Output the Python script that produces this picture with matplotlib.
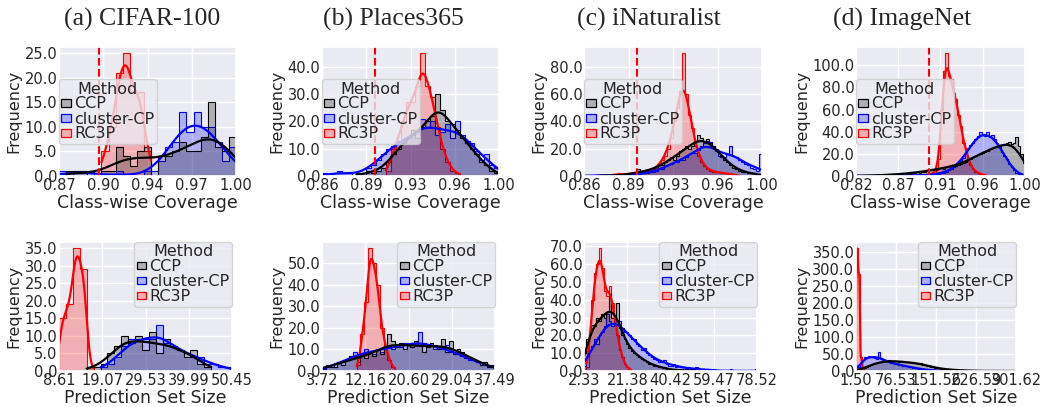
import math
import numpy as np
import matplotlib
matplotlib.use("Agg")
import matplotlib.pyplot as plt
import seaborn as sns
from matplotlib.colors import to_rgba
from matplotlib.patches import Patch
from matplotlib.ticker import MultipleLocator, FormatStrFormatter

# ---------------- data ----------------
methods = ["CCP", "cluster-CP", "RC3P"]
method_colors = ["black", "blue", "red"]
dataset_titles = ["(a) CIFAR-100", "(b) Places365", "(c) iNaturalist", "(d) ImageNet"]
target_coverage = 0.9

# top row: class-wise coverage histograms (counts per bin, bins span the x range)
cov_x_range = [(0.871, 1.0), (0.857, 1.0), (0.858, 1.0), (0.824, 1.0)]
cov_xticklabels = [["0.87", "0.90", "0.94", "0.97", "1.00"],
                   ["0.86", "0.89", "0.93", "0.96", "1.00"],
                   ["0.86", "0.89", "0.93", "0.96", "1.00"],
                   ["0.82", "0.87", "0.91", "0.96", "1.00"]]

cov_a_ccp = [0, 1, 1, 1, 0, 0, 1, 1, 6, 4, 2, 5, 6, 0, 4, 4, 5, 7, 5, 5, 8, 15, 6, 5, 8]
cov_a_cluster = [1, 0, 1, 1, 1, 0, 0, 0, 1, 0, 0, 0, 1, 1, 3, 6, 7, 13, 9, 13, 10, 10, 7, 3, 6]
cov_a_rc3p = [0, 0, 0, 0, 0, 0, 5, 10, 21, 25, 17, 17, 5, 0, 0, 0, 0, 0, 0, 0, 0, 0, 0, 0, 0]

cov_b_ccp = [0, 0, 0, 0, 0, 0, 0, 1, 0, 2, 1, 2, 3, 5, 8, 10, 12, 14, 17, 14,
             18, 20, 22, 30, 24, 20, 19, 17, 14, 12, 10, 8, 5, 4, 2, 1]
cov_b_cluster = [1, 0, 1, 2, 1, 1, 0, 1, 1, 3, 4, 6, 8, 10, 11, 13, 12, 14, 15, 16,
                 21, 18, 20, 15, 16, 19, 14, 20, 15, 13, 12, 9, 6, 8, 4, 3]
cov_b_rc3p = [0, 0, 0, 0, 0, 0, 0, 0, 0, 0, 0, 0, 0, 2, 10, 13, 20, 27, 27, 33,
              45, 33, 29, 18, 10, 5, 2, 1, 0, 0, 0, 0, 0, 0, 0, 0]

cov_c_ccp = [0, 0, 0, 0, 0, 1, 0, 0, 0, 0, 1, 0, 1, 1, 1, 2, 1, 2, 5, 3,
             2, 4, 5, 6, 5, 8, 8, 10, 12, 14, 12, 15, 18, 20, 22, 20, 22, 26, 30, 28,
             25, 27, 24, 22, 20, 17, 15, 12, 10, 8, 6, 5, 4, 3, 3, 2, 2, 2, 1, 1]
cov_c_cluster = [1, 0, 0, 1, 0, 1, 0, 0, 1, 0, 1, 0, 0, 1, 0, 1, 1, 1, 1, 2,
                 2, 2, 3, 3, 4, 5, 5, 7, 8, 9, 10, 10, 12, 12, 14, 16, 17, 17, 19, 22,
                 24, 26, 25, 22, 18, 15, 14, 14, 16, 22, 15, 14, 12, 10, 9, 8, 6, 5, 4, 16]
cov_c_rc3p = [0, 0, 0, 0, 1, 0, 0, 0, 0, 1, 1, 2, 1, 1, 1, 2, 2, 2, 2, 3,
              3, 3, 4, 5, 6, 8, 12, 15, 20, 28, 40, 50, 62, 90, 60, 45, 35, 22, 15, 10,
              7, 5, 4, 3, 3, 3, 2, 2, 2, 1, 1, 1, 0, 0, 0, 0, 0, 0, 0, 0]

cov_d_ccp = [1, 0, 0, 0, 1, 0, 0, 1, 0, 1, 1, 1, 0, 2, 1, 1, 2, 1, 2, 2,
             2, 3, 2, 3, 3, 4, 3, 4, 4, 5, 5, 6, 5, 6, 7, 7, 6, 8, 9, 10,
             8, 9, 10, 11, 12, 13, 14, 15, 17, 18, 19, 20, 21, 22, 23, 24, 25, 26, 27, 28,
             28, 29, 30, 31, 29, 30, 35, 27, 20, 12]
cov_d_cluster = [1, 0, 0, 0, 0, 0, 1, 0, 0, 0, 0, 1, 0, 0, 0, 1, 0, 0, 1, 0,
                 0, 1, 0, 1, 0, 1, 1, 0, 1, 1, 1, 1, 2, 2, 2, 3, 3, 4, 5, 6,
                 8, 9, 12, 14, 16, 20, 24, 28, 30, 33, 36, 40, 38, 36, 40, 35, 37, 33, 30, 28,
                 22, 18, 15, 11, 8, 5, 3, 2, 1, 0]
cov_d_rc3p = [0, 0, 0, 0, 0, 0, 0, 0, 0, 0, 0, 0, 1, 0, 0, 0, 0, 0, 1, 0,
              0, 0, 0, 1, 0, 0, 0, 1, 0, 1, 1, 2, 3, 5, 15, 60, 95, 111, 90, 88,
              75, 70, 55, 45, 30, 25, 15, 10, 6, 4, 3, 2, 1, 1, 0, 0, 0, 0, 0, 0,
              0, 0, 0, 0, 0, 0, 0, 0, 0, 0]

# bottom row: prediction set size histograms
size_x_range = [(8.61, 50.45), (3.72, 37.49), (2.33, 78.52), (1.50, 301.62)]
size_xticklabels = [["8.61", "19.07", "29.53", "39.99", "50.45"],
                    ["3.72", "12.16", "20.60", "29.04", "37.49"],
                    ["2.33", "21.38", "40.42", "59.47", "78.52"],
                    ["1.50", "76.53", "151.56", "226.59", "301.62"]]

size_e_ccp = [0, 0, 0, 0, 1, 1, 2, 5, 7, 10, 8, 10, 6, 11, 5, 9, 7, 6, 4, 6, 2, 1, 0, 0, 0]
size_e_cluster = [0, 0, 0, 0, 0, 0, 1, 2, 4, 7, 9, 9, 9, 9, 13, 8, 7, 6, 5, 4, 4, 2, 2, 1, 1]
size_e_rc3p = [15, 19, 35, 29, 1, 0, 0, 0, 0, 0, 0, 0, 0, 0, 0, 0, 0, 0, 0, 0, 0, 0, 0, 0, 0]

size_f_ccp = [2, 3, 2, 2, 4, 3, 5, 7, 6, 4, 8, 6, 9, 7, 10, 8, 12, 17, 14, 11,
              13, 10, 12, 11, 14, 12, 9, 11, 13, 12, 10, 15, 9, 14, 8, 10, 9, 7, 6, 5,
              4, 3, 4, 2, 2]
size_f_cluster = [1, 2, 3, 2, 4, 4, 5, 6, 9, 7, 8, 10, 9, 8, 10, 9, 11, 12, 10, 12,
                  11, 13, 12, 11, 14, 18, 13, 11, 12, 10, 11, 10, 12, 9, 8, 9, 7, 6, 5, 5,
                  4, 3, 3, 2, 3]
size_f_rc3p = [0, 0, 0, 0, 0, 0, 0, 0, 0, 3, 17, 32, 57, 50, 40, 20, 12, 5, 2, 0,
               0, 0, 0, 0, 0, 0, 0, 0, 0, 0, 0, 0, 0, 0, 0, 0, 0, 0, 0, 0,
               0, 0, 0, 0, 0]

size_g_ccp = [10, 18, 22, 26, 25, 30, 28, 32, 30, 33, 43, 30, 29, 38, 24, 20, 18, 15, 13, 11,
              10, 9, 8, 7, 6, 5, 4, 4, 3, 3, 2, 2, 2, 1, 1, 1, 0, 1, 0, 1,
              0, 0, 0, 0, 1, 0, 0, 0, 0, 0, 0, 0, 0, 0, 0, 0, 0, 0, 0, 0,
              0, 0, 0, 0, 0, 0, 0, 0, 0, 0]
size_g_cluster = [3, 8, 12, 14, 18, 15, 20, 22, 25, 32, 28, 25, 30, 26, 28, 24, 22, 22, 20, 18,
                  18, 15, 14, 12, 13, 10, 9, 8, 7, 6, 5, 5, 6, 4, 3, 3, 4, 2, 3, 2,
                  2, 1, 2, 1, 1, 2, 1, 1, 0, 1, 1, 0, 1, 0, 0, 0, 0, 0, 0, 1,
                  0, 0, 0, 0, 0, 0, 0, 0, 0, 1]
size_g_rc3p = [0, 2, 20, 40, 55, 60, 69, 58, 45, 42, 48, 38, 30, 20, 12, 8, 4, 2, 1, 0,
               0, 0, 0, 0, 0, 0, 0, 0, 0, 0, 0, 0, 0, 0, 0, 0, 0, 0, 0, 0,
               0, 0, 0, 0, 0, 0, 0, 0, 0, 0, 0, 0, 0, 0, 0, 0, 0, 0, 0, 0,
               0, 0, 0, 0, 0, 0, 0, 0, 0, 0]

size_h_ccp = [0, 1, 4, 7, 10, 13, 16, 18, 21, 22, 24, 25, 27, 26, 28, 29, 31, 29, 30, 28,
              29, 27, 28, 26, 27, 25, 26, 24, 25, 23, 22, 21, 22, 19, 18, 16, 14, 13, 11, 10,
              9, 8, 7, 6, 5, 5, 4, 4, 3, 3, 2, 3, 2, 2, 1, 1, 2, 1, 1, 0,
              1, 0, 1, 0, 1, 0, 0, 1, 0, 0, 0, 1, 0, 0, 0, 0, 0, 0, 0, 1]
size_h_cluster = [3, 12, 24, 33, 40, 42, 44, 42, 40, 38, 36, 55, 34, 32, 30, 28, 26, 24, 23, 21,
                  20, 19, 17, 16, 15, 14, 12, 11, 10, 9, 8, 7, 6, 5, 4, 4, 3, 2, 2, 1,
                  1, 1, 1, 0, 0, 1, 0, 0, 0, 0] + [0] * 30
size_h_rc3p = [360, 285, 40, 3] + [0] * 76

cov_counts = [[cov_a_ccp, cov_a_cluster, cov_a_rc3p],
              [cov_b_ccp, cov_b_cluster, cov_b_rc3p],
              [cov_c_ccp, cov_c_cluster, cov_c_rc3p],
              [cov_d_ccp, cov_d_cluster, cov_d_rc3p]]
size_counts = [[size_e_ccp, size_e_cluster, size_e_rc3p],
               [size_f_ccp, size_f_cluster, size_f_rc3p],
               [size_g_ccp, size_g_cluster, size_g_rc3p],
               [size_h_ccp, size_h_cluster, size_h_rc3p]]

# ---------------- style ----------------
sns.set_theme(style="darkgrid")
plt.rcParams["font.family"] = ["DejaVu Sans"]

W, H = 1040, 407
fig = plt.figure(figsize=(W / 100, H / 100), dpi=100)

top_px = [(59, 236), (322, 499), (584, 762), (856, 1025)]
bottom_px = [(59, 232), (322, 495), (584, 757), (856, 1016)]
rows_y = [(47, 176), (242, 371)]
title_cx = [142.5, 393.5, 649, 902.5]
cov_ystep = [5, 10, 20, 20]
size_ystep = [5, 10, 10, 50]

_erf = np.vectorize(math.erf)


def smooth_density(edges, counts):
    """Gaussian-smoothed (Scott bandwidth) version of the binned data, in count units."""
    counts = np.asarray(counts, float)
    centers = 0.5 * (edges[:-1] + edges[1:])
    w = edges[1] - edges[0]
    n = counts.sum()
    mean = (counts * centers).sum() / n
    var = (counts * (centers - mean) ** 2).sum() / n + w ** 2 / 12
    h = math.sqrt(var) * n ** (-0.2)
    nz = np.nonzero(counts)[0]
    x = np.linspace(edges[nz[0]], edges[nz[-1] + 1], 500)
    y = np.zeros_like(x)
    for k in nz:
        y += counts[k] * 0.5 * (_erf((x - edges[k]) / (h * math.sqrt(2)))
                                - _erf((x - edges[k + 1]) / (h * math.sqrt(2))))
    return x, y


def draw_panel(ax, xr, series, ystep, xticklabels, xlabel, legend_loc, anchor, vline=None):
    ymax = 0
    for counts, color in reversed(list(zip(series, method_colors))):
        edges = np.linspace(xr[0], xr[1], len(counts) + 1)
        ax.stairs(counts, edges, fill=True, facecolor=to_rgba(color, 0.25),
                  edgecolor=color, linewidth=0.8)
        kx, ky = smooth_density(edges, counts)
        ax.plot(kx, ky, color=color, linewidth=1.6)
        ymax = max(ymax, max(counts), ky.max())
    if vline is not None:
        ax.axvline(vline, color="red", linestyle="--", linewidth=1.5)
    ax.set_xlim(xr)
    ax.set_ylim(0, ymax * 1.05)
    ax.set_xticks(np.linspace(xr[0], xr[1], 5))
    ax.set_xticklabels(xticklabels)
    ax.yaxis.set_major_locator(MultipleLocator(ystep))
    ax.yaxis.set_major_formatter(FormatStrFormatter("%.1f"))
    ax.tick_params(axis="both", labelsize=10.5, length=0, pad=1.2)
    ax.set_xlabel(xlabel, fontsize=12.5, labelpad=1.0)
    ax.set_ylabel("Frequency", fontsize=11.5, labelpad=2)
    handles = [Patch(facecolor=to_rgba(c, 0.25), edgecolor=c, linewidth=0.9, label=m)
               for m, c in zip(methods, method_colors)]
    ax.legend(handles=handles, title="Method", loc=legend_loc, bbox_to_anchor=anchor,
              borderaxespad=0, fontsize=11.5, title_fontsize=11.5, handlelength=0.6,
              handleheight=0.35, handletextpad=0.2, labelspacing=0.0, borderpad=0.15)


for i in range(4):
    x0, x1 = top_px[i]
    y0, y1 = rows_y[0]
    ax = fig.add_axes([x0 / W, 1 - y1 / H, (x1 - x0) / W, (y1 - y0) / H])
    draw_panel(ax, cov_x_range[i], cov_counts[i], cov_ystep[i], cov_xticklabels[i],
               "Class-wise Coverage", "center left", (0, 0.5), vline=target_coverage)
    fig.text(title_cx[i] / W, 1 - 25.7 / H, dataset_titles[i], ha="center", va="baseline",
             fontsize=18.5, family="Liberation Serif")

    x0, x1 = bottom_px[i]
    y0, y1 = rows_y[1]
    ax = fig.add_axes([x0 / W, 1 - y1 / H, (x1 - x0) / W, (y1 - y0) / H])
    draw_panel(ax, size_x_range[i], size_counts[i], size_ystep[i], size_xticklabels[i],
               "Prediction Set Size", "upper right", (1, 1))

fig.savefig("out.png", dpi=100)
